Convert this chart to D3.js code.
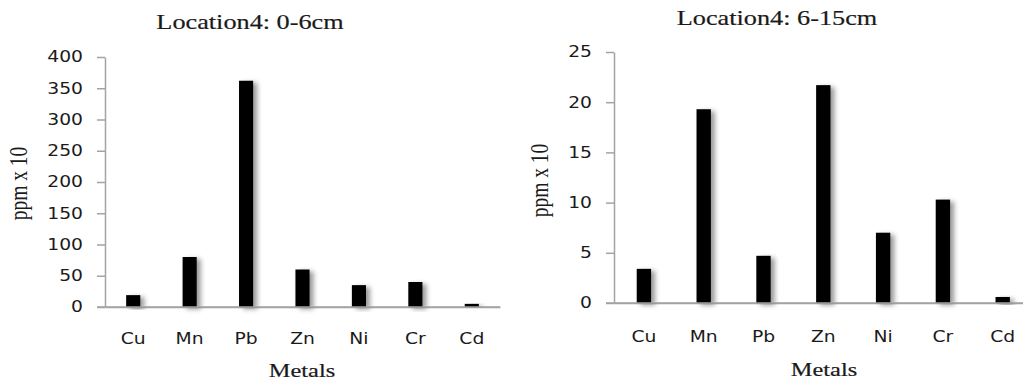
<!DOCTYPE html>
<html>
<head>
<meta charset="utf-8">
<script src="https://cdn.jsdelivr.net/npm/d3@7"></script>
<style>
  html, body { margin: 0; padding: 0; background: #fff; }
  svg { display: block; }
</style>
</head>
<body>
<svg id="chart" width="1023" height="381"></svg>
<script>
// ---- data ----
const categories = ["Cu", "Mn", "Pb", "Zn", "Ni", "Cr", "Cd"];
const values0to6 = [19, 80, 362, 60, 35, 40, 5];
const values6to15 = [3.4, 19.3, 4.7, 21.7, 7.0, 10.3, 0.6];
const ticks0to6 = [0, 50, 100, 150, 200, 250, 300, 350, 400];
const ticks6to15 = [0, 5, 10, 15, 20, 25];
const titles = ["Location4: 0-6cm", "Location4: 6-15cm"];
const yLabel = "ppm x 10";
const xLabel = "Metals";

// ---- layout ----
const SX = 1.25; // horizontal text stretch seen in the reference
const svg = d3.select("#chart");
const defs = svg.append("defs");
const f = defs.append("filter").attr("id", "shadow")
  .attr("x", "-50%").attr("y", "-20%").attr("width", "250%").attr("height", "140%");
f.append("feDropShadow").attr("dx", 4).attr("dy", 2).attr("stdDeviation", 2.4)
  .attr("flood-color", "#000").attr("flood-opacity", 0.4);

const panels = [
  { values: values0to6, ticks: ticks0to6, title: titles[0],
    x0: 105, x1: 500, yTop: 57, yBot: 307, pad: 0.75,
    titleX: 250, titleY: 29, yLabX: 27, yLabY: 183.5, xLabX: 302, xLabY: 377, catY: 344 },
  { values: values6to15, ticks: ticks6to15, title: titles[1],
    x0: 614, x1: 1032.6, yTop: 52, yBot: 303, pad: 0.76,
    titleX: 777, titleY: 25, yLabX: 548, yLabY: 180.5, xLabX: 824, xLabY: 376, catY: 342 }
];

function stretchedText(g, x, y, str, opt) {
  const grp = g.append("g")
    .attr("transform", `translate(${x},${y}) scale(${SX},1)` + (opt.rotate ? " rotate(-90)" : ""));
  grp.append("text")
    .attr("text-anchor", opt.anchor || "middle")
    .attr("font-family", opt.family)
    .attr("font-size", opt.size)
    .attr("fill", opt.fill || "#1a1a1a")
    .attr("stroke", "#1a1a1a").attr("stroke-width", opt.sw || 0)
    .text(str);
  return grp;
}

const axisColor = "#a3a3a3";
const sansFont = "'DejaVu Sans', Verdana, sans-serif";
const serifFont = "'Liberation Serif', 'Times New Roman', serif";

panels.forEach(p => {
  const g = svg.append("g");
  const y = d3.scaleLinear().domain([p.ticks[0], p.ticks[p.ticks.length - 1]]).range([p.yBot, p.yTop]);
  const x = d3.scaleBand().domain(categories).range([p.x0, p.x1]).paddingInner(p.pad).paddingOuter(p.pad / 2);

  // y axis
  const ya = g.append("g").attr("transform", `translate(${p.x0},0)`)
    .call(d3.axisLeft(y).tickValues(p.ticks).tickSize(8).tickSizeOuter(0).tickPadding(14));
  ya.select(".domain").attr("stroke", axisColor).attr("stroke-width", 1.5);
  ya.selectAll(".tick line").attr("stroke", axisColor).attr("stroke-width", 1.5);
  ya.selectAll(".tick text")
    .attr("x", null)
    .attr("transform", `translate(-22,0) scale(${SX},1)`)
    .attr("font-family", sansFont).attr("font-size", 15).attr("fill", "#1a1a1a");

  // x axis (baseline)
  const xa = g.append("g").attr("transform", `translate(0,${p.yBot})`)
    .call(d3.axisBottom(x).tickSize(0).tickSizeOuter(0).tickPadding(0));
  xa.select(".domain").attr("stroke", axisColor).attr("stroke-width", 1.5);
  xa.selectAll(".tick text")
    .attr("y", null).attr("dy", null)
    .attr("transform", `translate(0,${p.catY - p.yBot}) scale(${SX},1)`)
    .attr("font-family", sansFont).attr("font-size", 15).attr("fill", "#1a1a1a");

  // bars
  g.append("g").selectAll("rect").data(categories).join("rect")
    .attr("x", d => x(d))
    .attr("width", x.bandwidth())
    .attr("y", (d, i) => y(p.values[i]))
    .attr("height", (d, i) => y(0) - y(p.values[i]))
    .attr("fill", "#000")
    .attr("filter", "url(#shadow)");

  // redraw baseline over bar shadows
  g.append("line").attr("x1", p.x0 - 8).attr("x2", p.x1).attr("y1", p.yBot).attr("y2", p.yBot)
    .attr("stroke", axisColor).attr("stroke-width", 1.5);

  // titles & labels
  stretchedText(g, p.titleX, p.titleY, p.title, { family: serifFont, size: 21, sw: 0.2 });
  stretchedText(g, p.yLabX, p.yLabY, yLabel, { family: serifFont, size: 19.5, rotate: true });
  stretchedText(g, p.xLabX, p.xLabY, xLabel, { family: serifFont, size: 19.5, sw: 0.2 });
});
</script>
</body>
</html>
